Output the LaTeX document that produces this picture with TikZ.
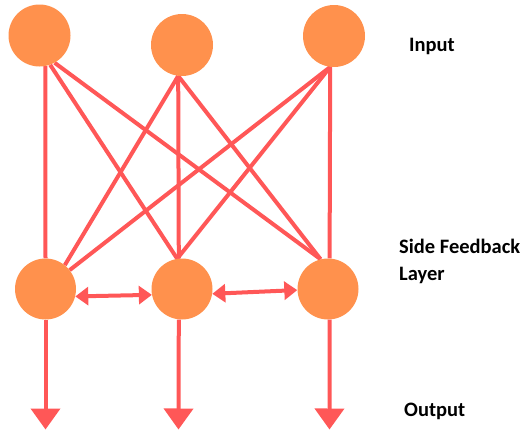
\documentclass[tikz,border=0pt]{standalone}
\usepackage{fontspec}
\setmainfont{Carlito}
\usetikzlibrary{arrows.meta}
\definecolor{nodeorange}{HTML}{FF914D}
\definecolor{linkred}{HTML}{FF5757}
\pgfdeclarelayer{bg}
\pgfsetlayers{bg,main}
\begin{document}
\begin{tikzpicture}[x=1pt,y=-1pt,
  neuron/.style={circle,fill=nodeorange,draw=none,inner sep=0pt,minimum size=62pt},
  link/.style={draw=linkred,line width=4pt},
  outarrow/.style={link,-{Triangle[length=21pt,width=29pt]}},
  sidearrow/.style={link,{Triangle[length=13pt,width=18pt]}-{Triangle[length=13pt,width=18pt]}},
  label/.style={font=\fontsize{20.5}{27}\selectfont\bfseries,inner sep=0pt,anchor=base west,align=left}]
\useasboundingbox (0,0) rectangle (531,431);
% input layer
\node[neuron] (t1) at (39.5,35.5) {};
\node[neuron] (t2) at (182,45) {};
\node[neuron] (t3) at (334,36) {};
% side feedback layer
\node[neuron,minimum size=61pt] (b1) at (45.5,289) {};
\node[neuron,minimum size=61pt] (b2) at (182,289) {};
\node[neuron,minimum size=61pt] (b3) at (328,289) {};
% output ends
\coordinate (o1) at (45.5,429.5);
\coordinate (o2) at (178.5,429.5);
\coordinate (o3) at (329.5,429.5);
\begin{pgfonlayer}{bg}
\draw[link] (t1.-79) -- (b1.90);
\draw[link] (t1.-70) -- (b2.99);
\draw[link] (t1.-61) -- (b3.104);
\draw[link] (t2.-97) -- (b1.51);
\draw[link] (t2.-97) -- (b2.96.5);
\draw[link] (t2.-97) -- (b3.104);
\draw[link] (t3.-97.5) -- (b1.38);
\draw[link] (t3.-97.5) -- (b2.99);
\draw[link] (t3.-97.5) -- (b3.87);
\end{pgfonlayer}
\draw[sidearrow] (b1.-14) -- (b2.191);
\draw[sidearrow] (b2.-9.5) -- (b3.182);
\draw[outarrow] (b1.-90) -- (o1);
\draw[outarrow] (b2.-96.5) -- (o2);
\draw[outarrow] (b3.-87) -- (o3);
% labels
\node[label] (lin) at (409,52) {Input};
\node[label] (lside) at (399,280) {Side Feedback\\Layer};
\node[label] (lout) at (404,416) {Output};
\end{tikzpicture}
\end{document}
